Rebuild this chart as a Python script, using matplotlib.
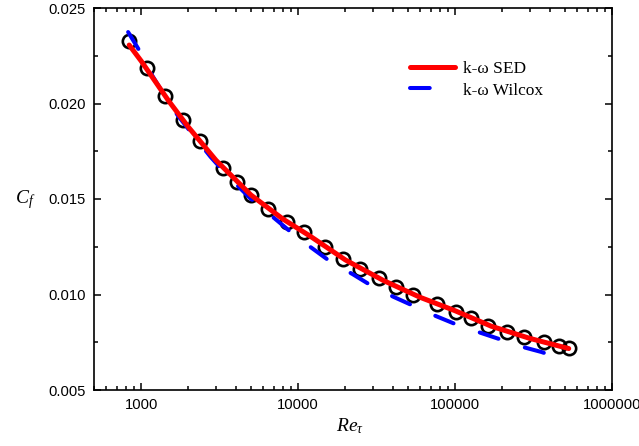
import matplotlib
matplotlib.use("Agg")
import matplotlib.pyplot as plt
from matplotlib.ticker import FixedLocator, FuncFormatter, LogLocator, MultipleLocator, NullFormatter

plt.rcParams['font.family'] = ['Liberation Sans', 'DejaVu Sans']
plt.rcParams['mathtext.fontset'] = 'custom'
plt.rcParams['mathtext.rm'] = 'Liberation Serif'
plt.rcParams['mathtext.it'] = 'Liberation Serif:italic'

# Experimental data (open circles)
exp_re = [838, 1093, 1425, 1833, 2354, 3305, 4060, 5000, 6425, 8490, 10920, 14890,
          19400, 24900, 32600, 41900, 53800, 76700, 101500, 126700, 162800, 215600,
          276900, 366200, 457000, 529700]
exp_cf = [0.02327, 0.02186, 0.02039, 0.01914, 0.01804, 0.01662, 0.01589, 0.01521,
          0.01448, 0.01380, 0.01327, 0.01249, 0.01186, 0.01134, 0.01086, 0.01039,
          0.00997, 0.00950, 0.00908, 0.00877, 0.00835, 0.00804, 0.00778, 0.00751,
          0.00730, 0.00720]

# k-omega SED
sed_re = [838, 1000, 1500, 2000, 3000, 5000, 8000, 12000, 20000, 35000, 60000,
          100000, 170000, 300000, 530000]
sed_cf = [0.02306, 0.02222, 0.02012, 0.01876, 0.01702, 0.01521, 0.01395, 0.01304,
          0.01181, 0.01073, 0.00985, 0.00915, 0.00834, 0.00770, 0.00717]

# k-omega Wilcox
wil_re = [825, 985, 1160, 1363, 1700, 2090, 2770, 3510, 4930, 6430, 9140, 11960,
          16500, 22200, 30300, 40700, 56200, 75500, 104000, 140000, 191000, 257000,
          355000, 478000]
wil_cf = [0.02374, 0.02270, 0.02154, 0.02060, 0.01940, 0.01846, 0.01720, 0.01626,
          0.01505, 0.01427, 0.01322, 0.01249, 0.01165, 0.01107, 0.01039, 0.00987,
          0.00935, 0.00887, 0.00840, 0.00804, 0.00767, 0.00730, 0.00699, 0.00662]

x_major = [1000, 10000, 100000, 1000000]
y_major = [0.005, 0.010, 0.015, 0.020, 0.025]

fig = plt.figure(figsize=(6.39, 4.46), dpi=100)
ax = fig.add_axes([94/639, 1-390/446, 518/639, 382/446])

ax.plot(exp_re, exp_cf, linestyle='none', marker='o', markersize=9.6,
        markerfacecolor='none', markeredgecolor='black', markeredgewidth=1.9, zorder=2)
ax.plot(sed_re, sed_cf, color='#ff0000', lw=3.6, solid_capstyle='round',
        label='k-ω SED', zorder=4)
ax.plot(wil_re, wil_cf, color='#0000ff', lw=2.9, linestyle=(0, (4.9, 6.9)),
        dash_capstyle='round', label='k-ω Wilcox', zorder=3)

ax.set_xscale('log')
ax.set_xlim(500, 1000000)
ax.set_ylim(0.005, 0.025)
ax.xaxis.set_major_locator(FixedLocator(x_major))
ax.xaxis.set_major_formatter(FuncFormatter(lambda v, p: f"{int(round(v))}"))
ax.xaxis.set_minor_locator(LogLocator(base=10, subs=range(2, 10), numticks=20))
ax.xaxis.set_minor_formatter(NullFormatter())
ax.yaxis.set_major_locator(FixedLocator(y_major))
ax.yaxis.set_major_formatter(FuncFormatter(lambda v, p: f"{v:.3f}"))
ax.yaxis.set_minor_locator(MultipleLocator(0.0025))

ax.tick_params(which='both', direction='in', top=True, right=True, width=1.1)
ax.tick_params(which='major', length=5, labelsize=10.6, pad=6)
ax.tick_params(which='minor', length=3)
for s in ax.spines.values():
    s.set_linewidth(1.2)

fig.text(25/639, 1-200/446, r'$C_f$', fontsize=14, ha='center', va='center')
fig.text(350/639, 1-426/446, r'$Re_\tau$', fontsize=14, ha='center', va='center')

leg = ax.legend(loc='upper left', bbox_to_anchor=((410-94)/518, (390-61)/382),
                frameon=False, borderaxespad=0, borderpad=0, handlelength=2.6,
                handletextpad=0.45, labelspacing=0.3,
                prop={'family': 'Liberation Serif', 'size': 12.5})

fig.savefig('out.png', dpi=100)
